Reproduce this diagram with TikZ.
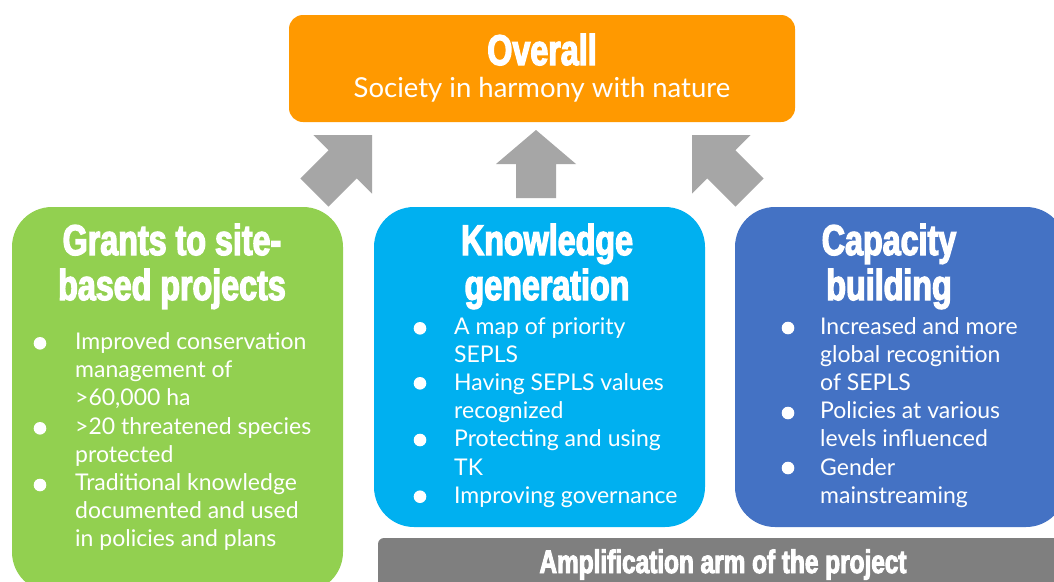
\documentclass[tikz,border=0pt]{standalone}
\usepackage{fontspec}
\setmainfont{Lato}
\newfontfamily\titlefont{Liberation Sans}[FakeStretch=0.75, BoldFeatures={FakeBold=3}]
\definecolor{ovorange}{RGB}{255,153,0}
\definecolor{grgreen}{RGB}{146,208,80}
\definecolor{kblue}{RGB}{0,176,240}
\definecolor{cblue}{RGB}{68,114,196}
\definecolor{arrgray}{RGB}{166,166,166}
\definecolor{bargray}{RGB}{127,127,127}
\begin{document}
\begin{tikzpicture}[x=1pt,y=-1pt,
  box/.style={draw=none, rounded corners=40pt, inner sep=0, outer sep=0},
  ttl/.style={text=white, font=\titlefont\bfseries\fontsize{43}{45}\selectfont, align=center, anchor=base, inner sep=0},
  body/.style={text=white, font=\fontsize{23}{28.2}\selectfont, align=left, anchor=base west, inner sep=0},
  blockarrow/.style={fill=arrgray, draw=none},
  dot/.style={fill=white}]
\useasboundingbox (0,0) rectangle (1054,581);
\clip (0,0) rectangle (1054,581);
\fill[white] (0,0) rectangle (1054,581);
% boxes
\node[box, fill=ovorange, rounded corners=14pt, minimum width=506pt, minimum height=107pt] (overall) at (542,68.5) {};
\node[box, fill=grgreen, minimum width=331pt, minimum height=385pt] (grants) at (177.5,399.5) {};
\node[box, fill=kblue, minimum width=331pt, minimum height=320pt] (knowledge) at (539.5,367) {};
\node[box, fill=cblue, minimum width=331pt, minimum height=320pt] (capacity) at (900.5,367) {};
\node[box, fill=bargray, rounded corners=6pt, minimum width=692pt, minimum height=57pt] (amplification) at (724,566.5) {};
% block arrows
\fill[blockarrow] (372,135) -- (372,193.6) -- (356.8,178.4) -- (328.5,206.7) -- (300.3,178.5) -- (328.6,150.2) -- (313.4,135) -- cycle;
\fill[blockarrow] (536,130) -- (576,164) -- (556,164) -- (556,198) -- (516,198) -- (516,164) -- (496,164) -- cycle;
\fill[blockarrow] (692,135) -- (692,193.6) -- (707.2,178.4) -- (735.5,206.7) -- (763.7,178.5) -- (735.4,150.2) -- (750.6,135) -- cycle;
% titles (anchor = baseline of the last line)
\node[ttl] (ovt) at (542,65) {Overall};
\node[text=white, font=\fontsize{27.5}{30}\selectfont, anchor=base, inner sep=0] (ovs) at (542,97) {Society in harmony with nature};
\node[ttl] (gt) at (172,300) {Grants to site-\\based projects};
\node[ttl] (kt) at (547,300) {Knowledge\\generation};
\node[ttl] (ct) at (889,300) {Capacity\\building};
\node[ttl, font=\titlefont\bfseries\fontsize{32.5}{34}\selectfont] (ampt) at (723,573) {Amplification arm of the project};
% bullet texts (anchor = baseline of the last line)
\node[body] (gb) at (75,546.9) {Improved conservation\\management of\\>60,000 ha\\>20 threatened species\\protected\\Traditional knowledge\\documented and used\\in policies and plans};
\node[body] (kb) at (454,503.2) {A map of priority\\SEPLS\\Having SEPLS values\\recognized\\Protecting and using\\TK\\Improving governance};
\node[body] (cb) at (820,503.2) {Increased and more\\global recognition\\of SEPLS\\Policies at various\\levels influenced\\Gender\\mainstreaming};
% bullets
\foreach \yy in {343.3,428.3,485} \fill[dot] (40,\yy) circle (6.3pt);
\foreach \yy in {328.3,383.3,440,496.7} \fill[dot] (420,\yy) circle (6.3pt);
\foreach \yy in {328,413,468} \fill[dot] (788,\yy) circle (6.3pt);
\end{tikzpicture}
\end{document}
